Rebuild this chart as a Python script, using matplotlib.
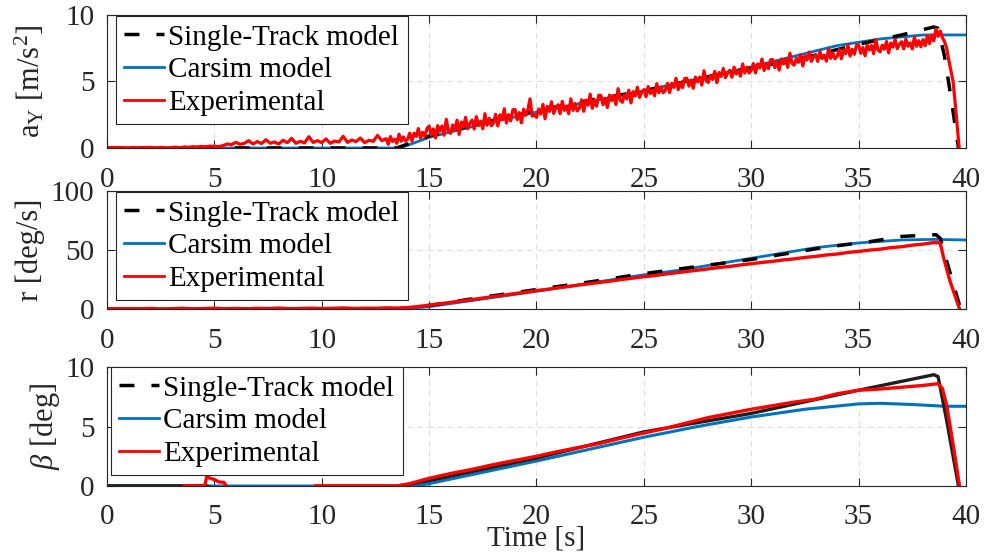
import matplotlib
matplotlib.use('Agg')
import matplotlib.pyplot as plt
import numpy as np
from matplotlib.lines import Line2D

SERIF = ['Liberation Serif', 'DejaVu Serif']
plt.rcParams['font.family'] = SERIF
plt.rcParams['font.serif'] = SERIF
plt.rcParams['mathtext.fontset'] = 'custom'
plt.rcParams['mathtext.rm'] = 'Liberation Serif'
plt.rcParams['mathtext.it'] = 'Liberation Serif:italic'

# --- lateral acceleration [m/s^2] ---
ay_st_t = [0, 13.5, 14, 15, 17.5, 20, 22.5, 25, 27.5, 30, 32.5, 35, 37, 38.5, 38.7, 39.0, 39.3, 39.65]
ay_st = [0, 0, 0.3, 0.9, 1.9, 2.8, 3.6, 4.3, 5.2, 6.0, 6.8, 7.8, 8.5, 9.1, 9.0, 6.9, 3.8, 0]

ay_cs_t = [0, 13.6, 14, 15, 17.5, 20, 22.5, 25, 27.5, 30, 32.5, 34, 36, 38, 40]
ay_cs = [0, 0, 0.2, 0.8, 1.8, 2.7, 3.5, 4.3, 5.2, 6.1, 7.1, 7.7, 8.2, 8.5, 8.5]

# measured signal: 0.2 s samples up to 12.8 s, then 0.1 s samples up to 39.7 s
ay_exp_t = np.concatenate([np.round(np.arange(0, 12.9, 0.2), 1),
                           np.round(np.arange(13.0, 39.75, 0.1), 1)])
ay_exp = [
    # 0 - 12.8 s
    0.02, 0.00, 0.05, 0.01, 0.03, 0.00, 0.04, 0.02, 0.00, 0.03, 0.05, 0.01, 0.02,
    0.04, 0.00, 0.03, 0.06, 0.02, 0.08, 0.05, 0.10, 0.07, 0.12, 0.09, 0.14,
    0.12, 0.10, 0.18, 0.30, 0.25, 0.42, 0.28, 0.35, 0.55, 0.30, 0.48, 0.33, 0.62,
    0.36, 0.45, 0.30, 0.58, 0.40, 0.72, 0.35, 0.50, 0.38, 0.85, 0.42, 0.55,
    0.40, 0.68, 0.35, 0.52, 0.45, 0.88, 0.42, 0.60, 0.48, 0.75, 0.40, 0.58, 0.50,
    0.95, 0.55,
    # 13 - 38.9 s
    0.70, 0.28, 0.86, 0.49, 0.67, 0.35, 1.03, 0.51, 0.84, 0.52,
    0.66, 1.12, 0.52, 1.11, 0.87, 1.46, 0.73, 1.18, 0.87, 1.46,
    1.65, 0.96, 1.44, 0.75, 1.68, 1.26, 1.65, 0.96, 2.16, 1.29,
    1.10, 1.73, 1.36, 2.09, 1.02, 1.95, 1.58, 2.31, 1.44, 1.87,
    2.10, 1.43, 2.36, 1.69, 2.02, 1.45, 2.58, 1.71, 2.24, 1.67,
    1.90, 2.53, 1.66, 2.49, 2.12, 2.95, 1.88, 2.51, 2.04, 2.87,
    2.90, 2.13, 2.66, 1.89, 2.92, 2.45, 2.88, 3.70, 2.40, 2.47,
    2.30, 2.93, 2.55, 3.28, 2.20, 3.13, 2.75, 3.48, 2.60, 3.03,
    3.25, 2.58, 3.50, 2.83, 3.15, 2.58, 3.70, 2.83, 3.35, 2.78,
    3.00, 3.63, 2.76, 3.59, 3.22, 4.05, 2.98, 3.61, 3.14, 3.97,
    3.95, 3.26, 3.74, 3.05, 3.98, 3.56, 3.95, 3.26, 4.46, 3.59,
    3.44, 4.01, 3.69, 4.35, 3.39, 4.24, 3.91, 4.57, 3.80, 4.19,
    4.39, 3.87, 4.62, 4.10, 4.37, 3.93, 4.84, 4.16, 4.59, 4.15,
    4.34, 4.86, 4.17, 4.85, 4.56, 5.24, 4.39, 4.91, 4.54, 5.22,
    5.25, 4.65, 5.09, 4.49, 5.33, 4.97, 5.33, 4.73, 5.81, 5.05,
    4.93, 5.45, 5.16, 5.76, 4.91, 5.67, 5.38, 5.98, 5.29, 5.65,
    5.84, 5.32, 6.08, 5.56, 5.84, 5.40, 6.32, 5.64, 6.08, 5.64,
    5.84, 6.35, 5.65, 6.32, 6.02, 6.69, 5.83, 6.34, 5.96, 6.63,
    6.65, 6.04, 6.47, 5.86, 6.69, 6.32, 6.67, 6.06, 7.13, 6.36,
    6.23, 6.74, 6.44, 7.03, 6.17, 6.92, 6.62, 7.21, 6.51, 6.86,
    7.04, 6.51, 7.25, 6.72, 6.98, 6.53, 7.43, 6.74, 7.16, 6.71,
    6.89, 7.40, 6.71, 7.38, 7.09, 7.76, 6.91, 7.42, 7.05, 7.72,
    7.75, 7.13, 7.55, 6.93, 7.75, 7.37, 7.71, 7.09, 8.15, 7.37,
    7.23, 7.73, 7.43, 8.01, 7.15, 7.89, 7.59, 8.17, 7.47, 7.81,
    7.99, 7.45, 8.19, 7.65, 7.91, 7.45, 8.35, 7.65, 8.07, 7.61,
    8.15, 7.70, 8.45, 7.85, 8.50, 8.05, 8.95, 8.40, 8.80, 8.30,
    # 39.0 - 39.7 s
    8.00, 7.50, 6.60, 5.80, 5.00, 3.30, 1.50, -0.30,
]

# --- yaw rate [deg/s] ---
r_st_t = [0, 13.5, 15, 17.5, 20, 22.5, 25, 27.5, 30, 33.5, 35.5, 37, 38.6, 38.8, 39.0, 39.35, 39.75]
r_st = [0, 0, 3, 10, 16.5, 23, 30, 36, 42, 52.5, 57, 61.5, 63, 60, 47, 25, 0]

r_cs_t = [0, 13.8, 15, 17.5, 20, 22.5, 25, 26.7, 30, 33, 35, 37, 38.5, 40]
r_cs = [0, 0, 2, 8.5, 15, 22, 29, 33, 43, 52, 56, 58.5, 59, 58.5]

r_exp_t = list(np.arange(0, 38.6, 0.5)) + [38.8, 38.95, 39.25, 39.7]
r_exp = [
    0.3, 0.1, 0.4, 0.2, 0.5, 0.1, 0.3, 0.6, 0.2, 0.4, 0.7, 0.3, 0.5, 0.2,
    0.6, 0.4, 0.8, 0.3, 0.5, 0.7, 0.4, 0.6, 0.9, 0.5, 0.7, 0.6, 1.0, 0.8,
    1.2, 2.2, 3.2, 4.5, 5.6, 6.9, 8.0, 9.3, 10.6, 11.8, 13.1, 14.3,
    15.6, 16.7, 18.0, 19.1, 20.4, 21.5, 22.7, 23.8, 25.1, 26.2,
    27.4, 28.3, 29.6, 30.7, 31.8, 32.9, 34.0, 35.2, 36.1, 37.3,
    38.4, 39.5, 40.4, 41.6, 42.5, 43.7, 44.6, 45.8, 46.6, 47.9,
    48.8, 49.9, 50.7, 52.0, 52.8, 54.1, 55.0, 56.3,
    56.0, 44.0, 24.0, 0.0,
]

# --- sideslip angle [deg] ---
b_st_t = [0, 4.6, 5.0, 13.3, 13.6, 14, 15, 20, 25, 30, 35, 38.5, 38.7, 39.1, 39.4, 39.65]
b_st = [0.02, 0.02, -0.2, -0.2, 0.02, 0.15, 0.45, 2.35, 4.55, 6.1, 8.05, 9.35, 9.2, 5.5, 2.5, 0]

b_cs_t = [0, 13.8, 14.5, 15, 17.5, 20, 22.5, 25, 27.5, 30, 32.5, 35, 36, 37.5, 39, 40]
b_cs = [0, 0, 0.05, 0.2, 1.15, 2.1, 3.1, 4.1, 5.0, 5.8, 6.45, 6.9, 6.95, 6.85, 6.7, 6.7]

b_exp_t = [3.6, 4.55, 4.65, 4.8, 5.0, 5.2, 5.45, 5.55, 5.7, 9.5, 9.7, 13.5, 14, 14.5, 15,
           16, 17, 18, 19, 20, 21, 22, 23, 24, 25, 26, 27, 28, 29, 30, 31, 32, 33, 34,
           35, 36, 37, 38, 38.7, 38.9, 39.1, 39.4, 39.7]
b_exp = [0.02, 0.02, 0.8, 0.65, 0.55, 0.35, 0.3, 0.02, -0.3, -0.3, 0.02, 0.02, 0.15, 0.4,
         0.65, 1.05, 1.4, 1.8, 2.15, 2.5, 2.9, 3.25, 3.6, 4.05, 4.45, 4.85, 5.3, 5.75, 6.1,
         6.45, 6.75, 7.05, 7.3, 7.75, 8.05, 8.15, 8.3, 8.45, 8.6, 8.2, 6.8, 3.5, 0]

labels = ['Single-Track model', 'Carsim model', 'Experimental']
blue = '#0072BD'
dash = (4.3, 4.9)
txt = '0.15'

fig = plt.figure(figsize=(9.84, 5.58), dpi=100)
ax1 = fig.add_axes([0.1087, 0.7348, 0.873, 0.2383])
ax2 = fig.add_axes([0.1087, 0.4462, 0.873, 0.2115])
ax3 = fig.add_axes([0.1087, 0.1290, 0.873, 0.2133])

ax1.plot(ay_cs_t, ay_cs, color=blue, lw=2)
ax1.plot(ay_st_t, ay_st, color='k', lw=2.5, dashes=dash)
ax1.plot(ay_exp_t, ay_exp, color='red', lw=2.3)

ax2.plot(r_cs_t, r_cs, color=blue, lw=2)
ax2.plot(r_st_t, r_st, color='k', lw=2.5, dashes=dash)
ax2.plot(r_exp_t, r_exp, color='red', lw=2.4)

ax3.plot(b_cs_t, b_cs, color=blue, lw=2.2)
ax3.plot(b_st_t, b_st, color='0.12', lw=2.4)
ax3.plot(b_exp_t, b_exp, color='red', lw=2.4)

handles = [Line2D([], [], color='k', lw=2.5, dashes=dash),
           Line2D([], [], color=blue, lw=2),
           Line2D([], [], color='red', lw=2)]

ylims = [(0, 10), (0, 100), (0, 10)]
yticks = [[0, 5, 10], [0, 50, 100], [0, 5, 10]]
leg_anchor = [(0.0105, 0.992), (0.0105, 0.9915), (0.0047, 1.0)]
for ax, yl, yt, anc in zip([ax1, ax2, ax3], ylims, yticks, leg_anchor):
    ax.set_xlim(0, 40)
    ax.set_ylim(*yl)
    ax.set_xticks(np.arange(0, 41, 5))
    ax.set_yticks(yt)
    ax.grid(True, color='#dedede', linestyle=(0, (5, 4)), lw=0.8)
    ax.set_axisbelow(True)
    ax.tick_params(direction='in', top=True, right=True, length=6, width=0.8,
                   labelsize=21, colors=txt)
    ax.tick_params(axis='x', pad=14)
    ax.tick_params(axis='y', pad=9)
    for lab in ax.get_xticklabels() + ax.get_yticklabels():
        lab.set_fontfamily(SERIF)
    for s in ax.spines.values():
        s.set_color(txt)
        s.set_linewidth(0.8)
    leg = ax.legend(handles, labels, loc='upper left', bbox_to_anchor=anc,
                    handlelength=1.35, handletextpad=0.17, labelspacing=0.22,
                    borderpad=0.28, borderaxespad=0, fancybox=False, framealpha=1,
                    prop={'family': SERIF, 'size': 21})
    leg.get_frame().set_edgecolor(txt)
    leg.get_frame().set_linewidth(0.8)

ax3.tick_params(axis='x', pad=13)

ax1.set_ylabel('a$_\\mathrm{Y}$ [m/s$^2$]', fontsize=22, color=txt, fontfamily=SERIF)
ax2.set_ylabel('r [deg/s]', fontsize=22, color=txt, fontfamily=SERIF)
ax3.set_ylabel('$\\beta$ [deg]', fontsize=22, color=txt, fontfamily=SERIF)
ax1.yaxis.set_label_coords(-0.07, 0.5)
ax2.yaxis.set_label_coords(-0.072, 0.5)
ax3.yaxis.set_label_coords(-0.052, 0.5)

ax3.set_xlabel('Time [s]', fontsize=21, color=txt, fontfamily=SERIF)
ax3.xaxis.set_label_coords(0.5, -0.33)

fig.savefig('out.png', dpi=100)
